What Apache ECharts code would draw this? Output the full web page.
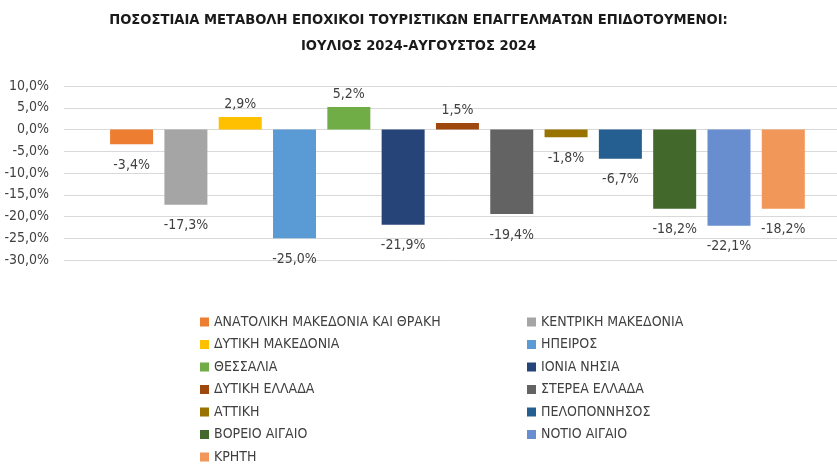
<!DOCTYPE html>
<html>
<head>
<meta charset="utf-8">
<script src="https://cdn.jsdelivr.net/npm/echarts@6/dist/echarts.min.js"></script>
<style>
  html, body { margin: 0; padding: 0; background: #fff; }
  #chart { width: 837px; height: 468px; }
</style>
</head>
<body>
<div id="chart"></div>
<script>
const regions = [
  'ΑΝΑΤΟΛΙΚΗ ΜΑΚΕΔΟΝΙΑ ΚΑΙ ΘΡΑΚΗ', 'ΚΕΝΤΡΙΚΗ ΜΑΚΕΔΟΝΙΑ', 'ΔΥΤΙΚΗ ΜΑΚΕΔΟΝΙΑ',
  'ΗΠΕΙΡΟΣ', 'ΘΕΣΣΑΛΙΑ', 'ΙΟΝΙΑ ΝΗΣΙΑ', 'ΔΥΤΙΚΗ ΕΛΛΑΔΑ', 'ΣΤΕΡΕΑ ΕΛΛΑΔΑ',
  'ΑΤΤΙΚΗ', 'ΠΕΛΟΠΟΝΝΗΣΟΣ', 'ΒΟΡΕΙΟ ΑΙΓΑΙΟ', 'ΝΟΤΙΟ ΑΙΓΑΙΟ', 'ΚΡΗΤΗ'
];
const changes = [-3.4, -17.3, 2.9, -25.0, 5.2, -21.9, 1.5, -19.4, -1.8, -6.7, -18.2, -22.1, -18.2];
const colors = [
  '#ED7D31', '#A5A5A5', '#FFC000', '#5B9BD5', '#70AD47', '#264478', '#9E480E',
  '#636363', '#997300', '#255E91', '#43682B', '#698ED0', '#F1975A'
];
const yTicks = { min: -30, max: 10, step: 5 };

// pick a condensed face if one is installed, else plain Liberation Sans a bit smaller
function hasFont(name) {
  const ctx = document.createElement('canvas').getContext('2d');
  const t = 'ΑΝΑΤΟΛΙΚΗ ΜΑΚΕΔΟΝΙΑ 0123456789%';
  ctx.font = '40px monospace';
  const a = ctx.measureText(t).width;
  ctx.font = '40px "' + name + '", monospace';
  return ctx.measureText(t).width !== a;
}
const narrow = ['Liberation Sans Narrow', 'DejaVu Sans Condensed', 'Roboto Condensed'].find(hasFont);
const font = narrow ? '"' + narrow + '", sans-serif' : '"Liberation Sans", sans-serif';
const k = narrow ? 1 : 0.87;
const pct = v => v.toFixed(1).replace('.', ',') + '%';

const chart = echarts.init(document.getElementById('chart'));

const series = regions.map((name, i) => ({
  name: name,
  type: 'bar',
  data: [changes[i]],
  barWidth: 43,
  barGap: '26.3%',
  itemStyle: { color: colors[i] },
  label: {
    show: true,
    position: changes[i] >= 0 ? 'top' : 'bottom',
    distance: changes[i] >= 0 ? 6 : 14,
    color: '#404040',
    fontFamily: font,
    fontSize: 14 * k,
    formatter: p => pct(p.value)
  }
}));
// empty spacer column in front, nudges the bar group right like the original
series.unshift({ name: 'spacer', type: 'bar', data: [null], barWidth: 11, barGap: '26.3%', silent: true });

const legendBase = {
  orient: 'vertical',
  top: 314,
  padding: 0,
  icon: 'rect',
  itemWidth: 9,
  itemHeight: 9,
  itemGap: 6.5,
  selectedMode: false,
  textStyle: { color: '#404040', fontFamily: font, fontSize: 14 * k, lineHeight: 16 }
};

const option = {
  animation: false,
  title: {
    text: 'ΠΟΣΟΣΤΙΑΙΑ ΜΕΤΑΒΟΛΗ ΕΠΟΧΙΚΟΙ ΤΟΥΡΙΣΤΙΚΩΝ ΕΠΑΓΓΕΛΜΑΤΩΝ ΕΠΙΔΟΤΟΥΜΕΝΟΙ:\nΙΟΥΛΙΟΣ 2024-ΑΥΓΟΥΣΤΟΣ 2024',
    left: 'center',
    top: 2,
    textStyle: {
      fontFamily: font,
      fontWeight: 'bold',
      fontSize: 14.6 * k,
      lineHeight: 26,
      color: '#1a1a1a'
    }
  },
  legend: [
    Object.assign({}, legendBase, { left: 200, data: regions.filter((_, i) => i % 2 === 0) }),
    Object.assign({}, legendBase, { left: 527, data: regions.filter((_, i) => i % 2 === 1) })
  ],
  grid: { left: 64, top: 86, right: 0, height: 174 },
  xAxis: {
    type: 'category',
    data: [''],
    axisLine: { show: false },
    axisTick: { show: false },
    axisLabel: { show: false }
  },
  yAxis: {
    type: 'value',
    min: yTicks.min,
    max: yTicks.max,
    interval: yTicks.step,
    axisLine: { show: false },
    axisTick: { show: false },
    axisLabel: {
      formatter: v => pct(v),
      color: '#404040',
      fontFamily: font,
      fontSize: 14 * k,
      margin: 15
    },
    splitLine: { lineStyle: { color: '#D9D9D9', width: 1 } }
  },
  series: series
};

chart.setOption(option);
</script>
</body>
</html>
